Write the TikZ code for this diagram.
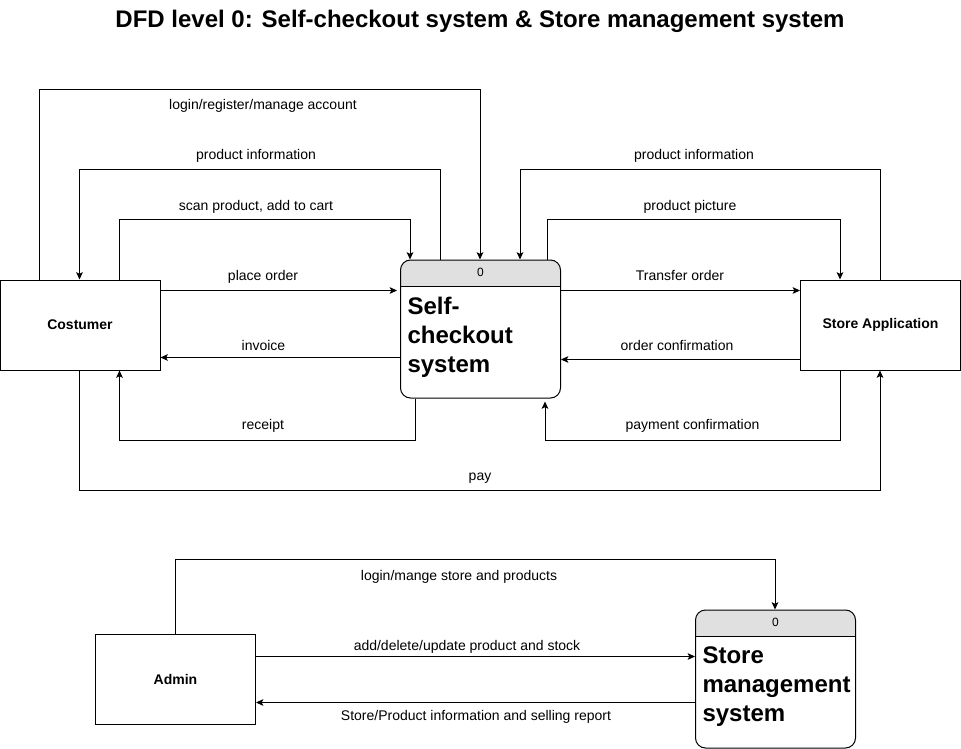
\documentclass[tikz,border=0pt]{standalone}
\usepackage{fontspec}
\setmainfont{Liberation Sans}
\usetikzlibrary{arrows.meta,calc}
\definecolor{headgray}{HTML}{E0E0E0}
\begin{document}
\begin{tikzpicture}[x=0.75pt,y=-0.75pt,line width=0.75pt,
  entity/.style={draw,minimum width=120pt,minimum height=67.5pt,inner sep=0pt,
    font=\fontsize{10.5}{12}\selectfont\bfseries},
  proc/.style={draw,rounded corners=7.5pt,minimum width=120pt,minimum height=103.5pt,inner sep=0pt,
    path picture={
      \fill[headgray,sharp corners] (path picture bounding box.north west) rectangle ($(path picture bounding box.north east)+(0,26)$);
      \draw[sharp corners] ($(path picture bounding box.north west)+(0,26)$) -- ($(path picture bounding box.north east)+(0,26)$);}},
  headnum/.style={font=\fontsize{9}{10}\selectfont,inner sep=0pt,anchor=base},
  ptext/.style={font=\fontsize{18}{21}\selectfont\bfseries,inner sep=0pt,anchor=base west},
  lbl/.style={font=\fontsize{10.5}{12}\selectfont,inner sep=0pt,anchor=base},
  flow/.style={-{Stealth[length=5.5pt,width=5pt,inset=1.2pt]}}]
\useasboundingbox (0,0) rectangle (961,749);

% title
\node[font=\fontsize{18}{21}\selectfont\bfseries,inner sep=0pt,anchor=base] (title) at (480,28)
  {DFD level 0: Self-checkout system \& Store management system};

% nodes
\node[entity] (C) at (80,325) {Costumer};
\node[proc] (SCS) at (480.5,329) {};
\node[entity] (SA) at (880.5,325) {Store Application};
\node[entity] (A) at (175.5,679) {Admin};
\node[proc] (SMS) at (775.5,679) {};

\node[headnum] (h1) at ($(SCS.north)+(0,17)$) {0};
\node[ptext] (s1) at ($(SCS.north west)+(7,55)$) {Self-};
\node[ptext] (s2) at ($(SCS.north west)+(7,84)$) {checkout};
\node[ptext] (s3) at ($(SCS.north west)+(7,113)$) {system};

\node[headnum] (h2) at ($(SMS.north)+(0,17)$) {0};
\node[ptext] (m1) at ($(SMS.north west)+(7,54)$) {Store};
\node[ptext] (m2) at ($(SMS.north west)+(7,83)$) {management};
\node[ptext] (m3) at ($(SMS.north west)+(7,112)$) {system};

% connectors (top)
\draw[flow] ($(C.north west)+(40,0)$) -- ++(0,-190) -| ($(SCS.north west)+(80,0)$);
\draw[flow] ($(SCS.north west)+(40,0)$) -- ++(0,-90) -| ($(C.north west)+(80,0)$);
\draw[flow] ($(C.north west)+(120,0)$) -- ++(0,-60) -| ($(SCS.north west)+(10,0)$);
\draw[flow] ($(C.north east)+(0,11)$) -- ($(SCS.north west)+(-3,31)$);
\draw[flow] ($(SCS.north west)+(0,98)$) -- ($(C.north east)+(0,78)$);
\draw[flow] ($(SCS.south west)+(15,0)$) -- ++(0,42) -| ($(C.south west)+(120,0)$);
\draw[flow] ($(C.south west)+(80,0)$) -- ++(0,120) -| ($(SA.south west)+(80,0)$);
\draw[flow] ($(SA.north west)+(80,0)$) -- ++(0,-110) -| ($(SCS.north west)+(120,0)$);
\draw[flow] ($(SCS.north west)+(147,0)$) -- ++(0,-40) -| ($(SA.north west)+(40,0)$);
\draw[flow] ($(SCS.north east)+(0,31)$) -- ($(SA.north west)+(0,11)$);
\draw[flow] ($(SA.north west)+(0,80)$) -- ($(SCS.north east)+(0,100)$);
\draw[flow] ($(SA.south west)+(40,0)$) -- ++(0,70) -| ($(SCS.south west)+(145,3)$);

% connectors (bottom)
\draw[flow] ($(A.north west)+(80,0)$) -- ++(0,-74) -| ($(SMS.north west)+(80,0)$);
\draw[flow] ($(A.north east)+(0,23)$) -- ($(SMS.north west)+(0,47)$);
\draw[flow] ($(SMS.north west)+(0,93)$) -- ($(A.north east)+(0,69)$);

% labels
\node[lbl] (l1) at (263,110) {login/register/manage account};
\node[lbl] (l2) at (256,160) {product information};
\node[lbl] (l3) at (256,210) {scan product, add to cart};
\node[lbl] (l4) at (263,280) {place order};
\node[lbl] (l5) at (263.5,350) {invoice};
\node[lbl] (l6) at (263,429) {receipt};
\node[lbl] (l7) at (480,480) {pay};
\node[lbl] (l8) at (694,160) {product information};
\node[lbl] (l9) at (690,210) {product picture};
\node[lbl] (l10) at (680,280) {Transfer order};
\node[lbl] (l11) at (677,350) {order confirmation};
\node[lbl] (l12) at (692.5,429) {payment confirmation};
\node[lbl] (l13) at (459,580) {login/mange store and products};
\node[lbl] (l14) at (467,650) {add/delete/update product and stock};
\node[lbl] (l15) at (476,720) {Store/Product information and selling report};
\end{tikzpicture}
\end{document}
